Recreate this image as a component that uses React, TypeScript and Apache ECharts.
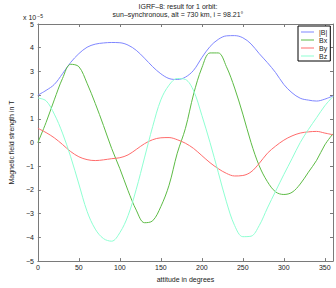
import React, { useEffect, useRef } from "react";
import * as echarts from "echarts";

const angles = [0, 10, 20, 30, 40, 50, 60, 70, 80, 90, 100, 110, 120, 130, 140, 150, 160, 170, 180, 190, 200, 210, 220, 230, 240, 250, 260, 270, 280, 290, 300, 310, 320, 330, 340, 350, 360];
// values in units of 1e-5 T
const bAbs = [2.0, 2.2, 2.45, 2.9, 3.38, 3.75, 4.02, 4.15, 4.2, 4.22, 4.21, 4.11, 3.89, 3.56, 3.2, 2.9, 2.7, 2.66, 2.76, 3.05, 3.58, 4.05, 4.35, 4.5, 4.51, 4.42, 4.16, 3.75, 3.37, 2.95, 2.45, 2.1, 1.87, 1.79, 1.75, 1.83, 1.97];
const bx = [0.0, 0.85, 1.8, 2.7, 3.3, 3.2, 2.5, 1.65, 0.72, -0.25, -1.1, -2.03, -2.85, -3.38, -3.3, -2.7, -1.8, -0.45, 0.6, 2.05, 3.15, 3.78, 3.78, 3.2, 2.3, 1.2, 0.0, -0.98, -1.65, -2.08, -2.19, -2.1, -1.75, -1.25, -0.75, -0.1, 0.37];
const by = [0.6, 0.42, 0.2, -0.08, -0.38, -0.6, -0.72, -0.76, -0.73, -0.68, -0.64, -0.52, -0.29, -0.05, 0.12, 0.2, 0.21, 0.12, -0.03, -0.25, -0.55, -0.85, -1.1, -1.3, -1.41, -1.39, -1.24, -0.88, -0.45, -0.15, 0.1, 0.28, 0.4, 0.45, 0.47, 0.4, 0.33];
const bz = [1.88, 1.76, 1.2, 0.4, -0.6, -1.75, -2.9, -3.65, -4.05, -4.16, -3.8, -3.08, -1.97, -0.65, 0.67, 1.8, 2.42, 2.7, 2.66, 2.18, 1.15, 0.0, -1.25, -2.5, -3.5, -3.97, -3.95, -3.5, -2.76, -2.05, -1.35, -0.68, 0.0, 0.55, 1.05, 1.55, 1.94];

const seriesNames = ["|B|", "Bx", "By", "Bz"];
const seriesColors = ["#7f86ff", "#5dbb45", "#ff6b6b", "#8effd2"];
const seriesValues = [bAbs, bx, by, bz];

const titleLine1 = "IGRF–8: result for 1 orbit:";
const titleLine2 = "sun–synchronous, alt = 730 km, i = 98.21°";
const xName = "attitude in degrees";
const yName = "Magnetic field strength in T";

const FONT = "Liberation Sans";

export default function App() {
  const ref = useRef<HTMLDivElement>(null);
  useEffect(() => {
    const chart = echarts.init(ref.current!, null, { renderer: "svg" });
    const fmt = (v: number) => (v < 0 ? "−" + Math.abs(v) : String(v));
    const axisLineStyle = { color: "#7a7a7a", width: 1 };
    const tickStyle = { show: true, inside: true, length: 3, lineStyle: { color: "#7a7a7a" } };
    chart.setOption({
      animation: false,
      backgroundColor: "#ffffff",
      textStyle: { fontFamily: FONT },
      grid: { left: 23, right: 3, top: 24, bottom: 20 },
      graphic: [
        { type: "text", x: 178, y: 3, style: { text: titleLine1, font: `7px "${FONT}"`, fill: "#222", align: "center" } },
        { type: "text", x: 178, y: 11, style: { text: titleLine2, font: `7px "${FONT}"`, fill: "#222", align: "center" } },
        {
          type: "text",
          x: 23,
          y: 13,
          style: {
            text: "{a|x 10}{b|−5}",
            rich: {
              a: { fontSize: 7, fontFamily: FONT, fill: "#222", verticalAlign: "bottom", lineHeight: 8 },
              b: { fontSize: 5, fontFamily: FONT, fill: "#222", verticalAlign: "top", lineHeight: 6, padding: [0, 0, 4, 1] },
            },
          },
        },
      ],
      legend: {
        data: seriesNames,
        orient: "vertical",
        left: 298,
        top: 26,
        icon: "rect",
        itemWidth: 13,
        itemHeight: 1,
        itemGap: 0,
        padding: [2, 3, 1, 3],
        borderColor: "#000",
        borderWidth: 1,
        backgroundColor: "#fff",
        textStyle: { fontSize: 7, lineHeight: 8, color: "#222", fontFamily: FONT },
      },
      xAxis: [
        {
          type: "value",
          min: 0,
          max: 360,
          interval: 50,
          position: "bottom",
          name: xName,
          nameLocation: "middle",
          nameGap: 12,
          nameTextStyle: { fontSize: 7, color: "#222", fontFamily: FONT },
          axisLine: { show: true, onZero: false, lineStyle: axisLineStyle },
          axisTick: tickStyle,
          splitLine: { show: false },
          axisLabel: { fontSize: 7, color: "#222", fontFamily: FONT, margin: 3, showMaxLabel: false },
        },
        {
          type: "value",
          min: 0,
          max: 360,
          interval: 50,
          position: "top",
          axisLine: { show: true, onZero: false, lineStyle: axisLineStyle },
          axisTick: tickStyle,
          splitLine: { show: false },
          axisLabel: { show: false },
        },
      ],
      yAxis: [
        {
          type: "value",
          min: -5,
          max: 5,
          interval: 1,
          position: "left",
          name: yName,
          nameLocation: "middle",
          nameGap: 13,
          nameTextStyle: { fontSize: 7, color: "#222", fontFamily: FONT },
          axisLine: { show: true, onZero: false, lineStyle: axisLineStyle },
          axisTick: tickStyle,
          splitLine: { show: false },
          axisLabel: { fontSize: 7, color: "#222", fontFamily: FONT, margin: 4, formatter: fmt },
        },
        {
          type: "value",
          min: -5,
          max: 5,
          interval: 1,
          position: "right",
          axisLine: { show: true, onZero: false, lineStyle: axisLineStyle },
          axisTick: tickStyle,
          splitLine: { show: false },
          axisLabel: { show: false },
        },
      ],
      series: seriesNames.map((name, i) => ({
        name,
        type: "line",
        xAxisIndex: 0,
        yAxisIndex: 0,
        smooth: 0.35,
        symbol: "none",
        color: seriesColors[i],
        lineStyle: { color: seriesColors[i], width: 1 },
        data: angles.map((a, j) => [a, seriesValues[i][j]]),
      })),
    });
    return () => chart.dispose();
  }, []);
  return <div ref={ref} style={{ width: 336, height: 288, position: "absolute", left: 0, top: 0 }} />;
}
